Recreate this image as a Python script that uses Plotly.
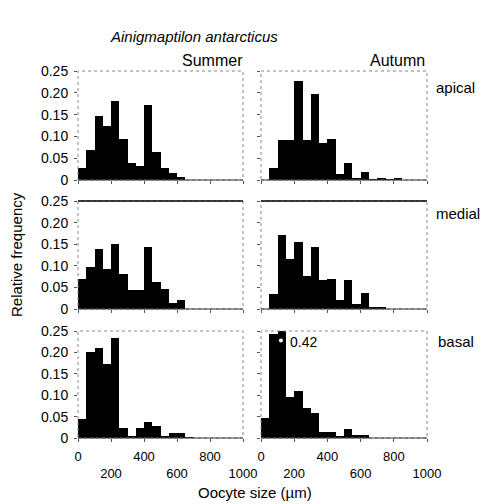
import plotly.graph_objects as go
from plotly.subplots import make_subplots

# ---- data ----
bin_left = [0, 50, 100, 150, 200, 250, 300, 350, 400, 450,
            500, 550, 600, 650, 700, 750, 800, 850, 900, 950]
bin_width = 50

summer_apical = [0.027, 0.069, 0.146, 0.123, 0.181, 0.094, 0.038, 0.032, 0.173, 0.064,
                 0.027, 0.015, 0.007, 0, 0, 0, 0, 0, 0, 0]
autumn_apical = [0, 0.027, 0.092, 0.092, 0.228, 0.092, 0.198, 0.086, 0.094, 0.013,
                 0.040, 0.004, 0.019, 0.002, 0.005, 0.002, 0.005, 0, 0, 0]
summer_medial = [0.069, 0.098, 0.140, 0.092, 0.150, 0.080, 0.044, 0.044, 0.144, 0.063,
                 0.046, 0.015, 0.021, 0, 0, 0, 0, 0, 0, 0]
autumn_medial = [0, 0.034, 0.171, 0.115, 0.154, 0.076, 0.144, 0.067, 0.069, 0.021,
                 0.067, 0.011, 0.036, 0.004, 0.003, 0, 0, 0, 0, 0]
summer_basal = [0.045, 0.202, 0.211, 0.172, 0.234, 0.023, 0.005, 0.023, 0.037, 0.029,
                0.005, 0.012, 0.012, 0.002, 0, 0, 0, 0, 0, 0]
autumn_basal = [0.046, 0.243, 0.42, 0.096, 0.110, 0.069, 0.059, 0.015, 0.015, 0.004,
                0.021, 0.007, 0.007, 0, 0, 0, 0, 0, 0, 0]

seasons = ["Summer", "Autumn"]
positions = ["apical", "medial", "basal"]
panels = [[summer_apical, autumn_apical],
          [summer_medial, autumn_medial],
          [summer_basal, autumn_basal]]

x_tickvals = [0, 200, 400, 600, 800, 1000]
x_ticktext = ["0", "<br>200", "400", "<br>600", "800", "<br>1000"]
y_tickvals = [0, 0.05, 0.10, 0.15, 0.20, 0.25]
y_ticktext = ["0", "0.05", "0.10", "0.15", "0.20", "0.25"]
clipped_label = "0.42"

FONT = "Liberation Sans, Arial, Helvetica, sans-serif"
W, H = 486, 504

# panel pixel boxes
col_px = [(78, 243), (261, 427)]
row_px = [(71, 180), (201, 309), (331, 438)]

fig = make_subplots(rows=3, cols=2)
centers = [b + bin_width / 2 for b in bin_left]

for r in range(3):
    for c in range(2):
        fig.add_trace(go.Bar(x=centers, y=panels[r][c], width=bin_width,
                             marker=dict(color="black", line=dict(width=0)),
                             showlegend=False, hoverinfo="skip"), row=r + 1, col=c + 1)
        idx = r * 2 + c + 1
        xa = "xaxis" if idx == 1 else f"xaxis{idx}"
        ya = "yaxis" if idx == 1 else f"yaxis{idx}"
        x0, x1 = col_px[c]
        y0, y1 = row_px[r]
        fig.layout[xa].update(
            domain=[x0 / W, x1 / W], range=[0, 1000], automargin=False,
            tickvals=x_tickvals,
            ticktext=x_ticktext if r == 2 else [""] * len(x_tickvals),
            showticklabels=(r == 2), ticklabelstandoff=3,
            ticks="outside", ticklen=3, tickcolor="#555", tickwidth=1,
            showgrid=False, zeroline=False, showline=False,
            tickfont=dict(family=FONT, size=13, color="black"))
        fig.layout[ya].update(
            domain=[1 - y1 / H, 1 - y0 / H], range=[0, 0.25], automargin=False,
            tickvals=y_tickvals, ticktext=y_ticktext,
            showticklabels=(c == 0), ticklabelstandoff=3,
            ticks="outside", ticklen=3, tickcolor="#555", tickwidth=1,
            showgrid=False, zeroline=False, showline=False,
            tickfont=dict(family=FONT, size=14, color="black"))
        xr = "x domain" if idx == 1 else f"x{idx} domain"
        yr = "y domain" if idx == 1 else f"y{idx} domain"
        fig.add_shape(type="rect", xref=xr, yref=yr, x0=0, x1=1, y0=0, y1=1,
                      line=dict(color="#888", width=1, dash="dot"), layer="above")
        if r == 1:
            fig.add_shape(type="line", xref=xr, yref=yr, x0=0, x1=1, y0=1, y1=1,
                          line=dict(color="black", width=1.5), layer="above")
        fig.add_shape(type="line", xref=xr, yref=yr, x0=0, x1=1, y0=0, y1=0,
                      line=dict(color="#333", width=1), layer="above")

# clipped bar marker and label (autumn basal = subplot 6)
fig.add_trace(go.Scatter(x=[120], y=[0.228], mode="markers",
                         marker=dict(color="white", size=4), hoverinfo="skip",
                         showlegend=False, cliponaxis=False), row=3, col=2)
fig.add_annotation(x=160, y=0.224, xref="x6", yref="y6", text=clipped_label,
                   showarrow=False, xanchor="left", yanchor="middle",
                   font=dict(family=FONT, size=14, color="black"))

def px_ann(text, x, y, xanchor="center", yanchor="middle", size=15, angle=0, italic=False):
    fig.add_annotation(x=x / W, y=1 - y / H, xref="paper", yref="paper",
                       text=f"<i>{text}</i>" if italic else text,
                       showarrow=False, xanchor=xanchor, yanchor=yanchor, textangle=angle,
                       font=dict(family=FONT, size=size, color="black"))

px_ann("Ainigmaptilon antarcticus", 108, 37, xanchor="left", italic=True, size=15)
px_ann(seasons[0], 245, 71, xanchor="right", yanchor="bottom", size=16)
px_ann(seasons[1], 427, 71, xanchor="right", yanchor="bottom", size=16)
px_ann(positions[0], 434, 87, xanchor="left", size=15)
px_ann(positions[1], 434, 213, xanchor="left", size=15)
px_ann(positions[2], 436, 341, xanchor="left", size=15)
px_ann("Relative frequency", 16, 255, angle=-90, size=15)
px_ann("Oocyte size (µm)", 255, 492, size=15)

fig.update_layout(width=W, height=H, margin=dict(l=0, r=0, t=0, b=0, autoexpand=False),
                  paper_bgcolor="white", plot_bgcolor="white", bargap=0,
                  font=dict(family=FONT, color="black"))

fig.write_html("out.html", config={"displayModeBar": False},
               post_script="document.body.style.margin='0';")
